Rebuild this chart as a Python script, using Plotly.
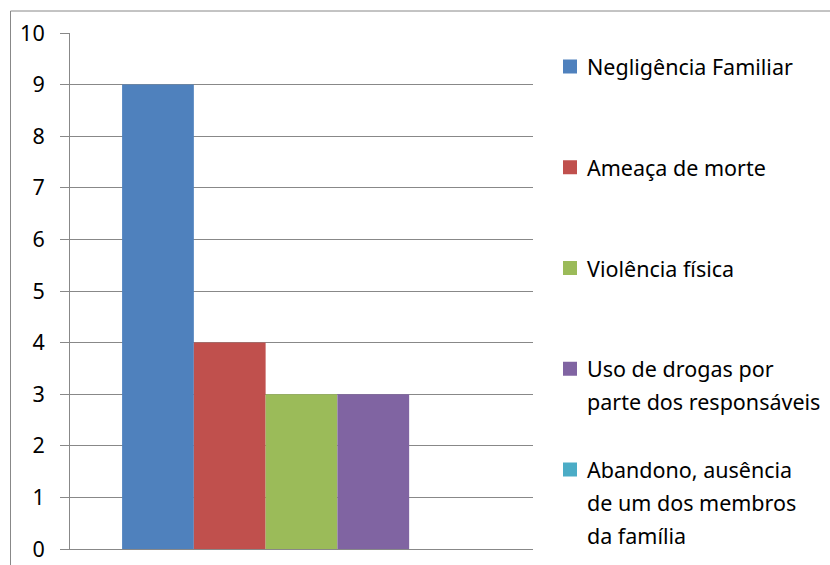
import plotly.graph_objects as go

categories = [""]
series_names = [
    "Negligência Familiar",
    "Ameaça de morte",
    "Violência física",
    "Uso de drogas por\nparte dos responsáveis",
    "Abandono, ausência\nde um dos membros\nda família",
]
series_values = [9, 4, 3, 3, 0]
colors = ["#4F81BD", "#C0504D", "#9BBB59", "#8064A2", "#4BACC6"]
y_ticks = [0, 1, 2, 3, 4, 5, 6, 7, 8, 9, 10]

W, H = 830, 565
L, R, T, B = 70, 297, 33, 16
pw, ph = W - L - R, H - T - B
FONT = "Noto Sans"
FS = 21.5
GRID = "#888888"

fig = go.Figure()
for name, val, col in zip(series_names, series_values, colors):
    fig.add_trace(go.Bar(x=categories, y=[val], name=name.replace("\n", " "),
                         marker=dict(color=col, line=dict(width=0)), showlegend=False))

def px_to_paper_x(px):
    return (px - L) / pw

def px_to_paper_y(py):
    return (H - B - py) / ph

shapes = []
annotations = []
# outer chart frame (left and top edges)
shapes.append(dict(type="line", xref="paper", yref="paper",
                   x0=px_to_paper_x(10.5), x1=px_to_paper_x(10.5),
                   y0=px_to_paper_y(11), y1=px_to_paper_y(600),
                   line=dict(color=GRID, width=1)))
shapes.append(dict(type="line", xref="paper", yref="paper",
                   x0=px_to_paper_x(10.5), x1=px_to_paper_x(900),
                   y0=px_to_paper_y(11), y1=px_to_paper_y(11),
                   line=dict(color=GRID, width=1)))

# custom legend
for i, (name, col) in enumerate(zip(series_names, colors)):
    cy = 66.5 + i * 100.75
    shapes.append(dict(type="rect", xref="paper", yref="paper",
                       x0=px_to_paper_x(563), x1=px_to_paper_x(577),
                       y0=px_to_paper_y(cy - 7), y1=px_to_paper_y(cy + 7),
                       fillcolor=col, line=dict(width=0)))
    for j, line in enumerate(name.split("\n")):
        annotations.append(dict(xref="paper", yref="paper",
                                x=px_to_paper_x(585), y=px_to_paper_y(cy + j * 33),
                                xanchor="left", yanchor="middle", showarrow=False,
                                text=line, font=dict(family=FONT, size=FS, color="#000000")))

fig.update_layout(
    width=W, height=H,
    margin=dict(l=L, r=R, t=T, b=B, pad=0, autoexpand=False),
    paper_bgcolor="white", plot_bgcolor="white",
    barmode="group", bargap=0.225, bargroupgap=0,
    font=dict(family=FONT, size=FS, color="#000000"),
    shapes=shapes, annotations=annotations,
    xaxis=dict(showticklabels=False, showgrid=False, zeroline=False, automargin=False,
               showline=True, linecolor=GRID, linewidth=1, ticks=""),
    yaxis=dict(range=[0, 10], tickvals=y_ticks, showgrid=True, gridcolor=GRID, gridwidth=1,
               zeroline=False, showline=True, linecolor=GRID, linewidth=1, automargin=False,
               ticks="outside", ticklen=9, tickcolor=GRID, tickwidth=1,
               ticklabelstandoff=11,
               tickfont=dict(family=FONT, size=FS, color="#000000")),
)

fig.write_html("out.html")
